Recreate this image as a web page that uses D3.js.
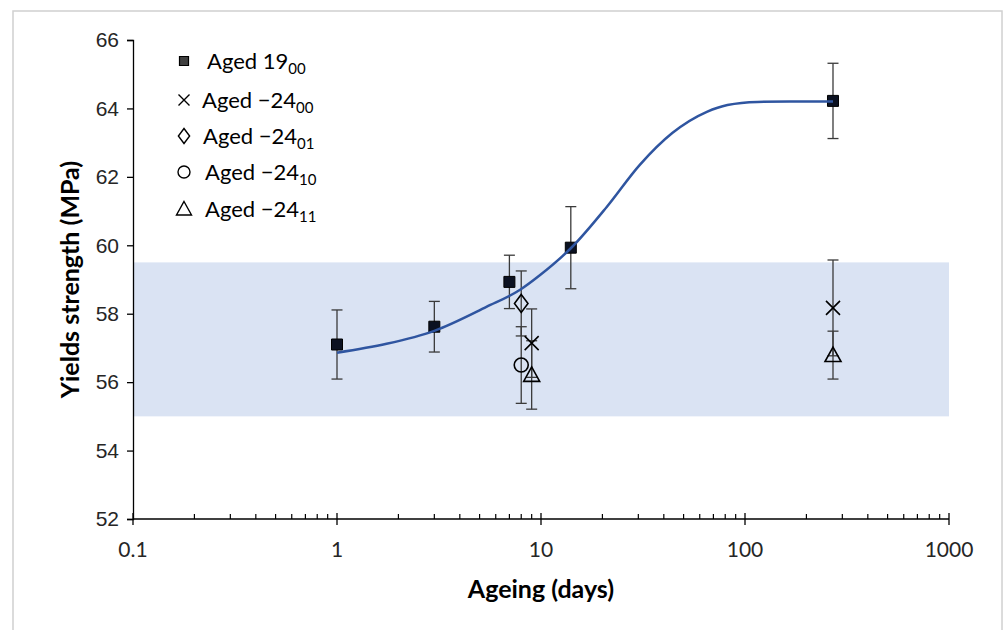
<!DOCTYPE html>
<html lang="en">
<head>
  <meta charset="UTF-8">
  <title>Yield strength vs ageing</title>
  <script src="https://d3js.org/d3.v7.min.js"></script>
  <style>
    body { margin: 0; background: #fff; }
    svg { display: block; font-family: Lato, "Open Sans", sans-serif; }
    .tick-label { font-size: 21px; fill: #262626; }
    .axis-title { font-size: 25px; font-weight: bold; fill: #000; }
    .legend text { font-size: 22px; fill: #000; }
  </style>
</head>
<body>
<svg width="1003" height="630"></svg>
<script>
// reference band (MPa)
const bandLow = 55.0;
const bandHigh = 59.5;

// Aged 19_00
const daysA = [1, 3, 7, 14, 270];
const valsA = [57.1, 57.62, 58.93, 59.93, 64.22];
const errA  = [1.01, 0.74, 0.78, 1.2, 1.1];

// Aged -24_00 (x)
const daysB = [9, 270];
const valsB = [57.14, 58.17];
const errB  = [1.0, 1.4];

// Aged -24_01 (diamond)
const daysC = [8];
const valsC = [58.3];
const errC  = [0.95];

// Aged -24_10 (circle)
const daysD = [8];
const valsD = [56.5];
const errD  = [1.12];

// Aged -24_11 (triangle)
const daysE = [9, 270];
const valsE = [56.21, 56.79];
const errE  = [1.0, 0.7];

// fitted curve
const fitDays = [1, 1.75, 3, 5.4, 7.9, 9.9, 14.2, 21, 30.5, 44, 65, 82, 115, 165, 270];
const fitVals = [56.86, 57.12, 57.5, 58.2, 58.7, 59.13, 59.95, 61.12, 62.35, 63.28, 63.9, 64.1, 64.19, 64.2, 64.2];

const xTicks = [0.1, 1, 10, 100, 1000];
const yTicks = [52, 54, 56, 58, 60, 62, 64, 66];

const svg = d3.select('svg');

// outer frame
svg.append('rect')
  .attr('x', 13).attr('y', 11)
  .attr('width', 989).attr('height', 640)
  .attr('fill', '#fff')
  .attr('stroke', '#d0d0d0')
  .attr('stroke-width', 1.5);

const x = d3.scaleLog().domain([0.1, 1000]).range([133, 949]);
const y = d3.scaleLinear().domain([52, 66]).range([519, 40]);

// band
svg.append('rect')
  .attr('x', x(0.1))
  .attr('y', y(bandHigh))
  .attr('width', x(1000) - x(0.1))
  .attr('height', y(bandLow) - y(bandHigh))
  .attr('fill', '#dae3f3');

// y axis
const yAxis = svg.append('g')
  .attr('transform', `translate(${x(0.1)},0)`)
  .call(d3.axisLeft(y).tickValues(yTicks).tickSize(6).tickPadding(8).tickFormat(d3.format('d')));
yAxis.select('.domain').attr('stroke', '#000').attr('stroke-width', 1.3);
yAxis.selectAll('.tick line').attr('stroke', '#000').attr('stroke-width', 1.3);
yAxis.selectAll('.tick text').attr('class', 'tick-label').attr('font-family', null).attr('font-size', null);

// x axis: minor ticks point up, majors cross the line
const minor = [];
[0.1, 1, 10, 100].forEach(dec => { for (let k = 2; k <= 9; k++) minor.push(dec * k); });

const xAxis = svg.append('g').attr('transform', `translate(0,${y(52)})`);
xAxis.append('line')
  .attr('x1', x(0.1)).attr('x2', x(1000))
  .attr('stroke', '#000').attr('stroke-width', 1.3);
xAxis.selectAll('line.minor').data(minor).enter().append('line')
  .attr('class', 'minor')
  .attr('x1', d => x(d)).attr('x2', d => x(d))
  .attr('y1', -5).attr('y2', 0)
  .attr('stroke', '#000').attr('stroke-width', 1.2);
xAxis.selectAll('line.major').data(xTicks).enter().append('line')
  .attr('class', 'major')
  .attr('x1', d => x(d)).attr('x2', d => x(d))
  .attr('y1', -6).attr('y2', 6)
  .attr('stroke', '#000').attr('stroke-width', 1.3);
xAxis.selectAll('text').data(xTicks).enter().append('text')
  .attr('class', 'tick-label')
  .attr('x', d => x(d))
  .attr('y', 38)
  .attr('text-anchor', 'middle')
  .text(d => String(d));

// axis titles
svg.append('text')
  .attr('class', 'axis-title')
  .attr('transform', `translate(79,${(y(52) + y(66)) / 2}) rotate(-90)`)
  .attr('text-anchor', 'middle')
  .text('Yields strength (MPa)');
svg.append('text')
  .attr('class', 'axis-title')
  .attr('x', (x(0.1) + x(1000)) / 2)
  .attr('y', 598)
  .attr('text-anchor', 'middle')
  .text('Ageing (days)');

// error bars
function errorBars(days, vals, errs) {
  const g = svg.append('g').attr('stroke', '#3a3a3a').attr('stroke-width', 1.3);
  days.forEach((d, i) => {
    const cx = x(d), top = y(vals[i] + errs[i]), bot = y(vals[i] - errs[i]);
    g.append('line').attr('x1', cx).attr('x2', cx).attr('y1', top).attr('y2', bot);
    g.append('line').attr('x1', cx - 5.5).attr('x2', cx + 5.5).attr('y1', top).attr('y2', top);
    g.append('line').attr('x1', cx - 5.5).attr('x2', cx + 5.5).attr('y1', bot).attr('y2', bot);
  });
}
errorBars(daysA, valsA, errA);
errorBars(daysC, valsC, errC);
errorBars(daysD, valsD, errD);
errorBars(daysB, valsB, errB);
errorBars(daysE, valsE, errE);

// marker shapes
const shapes = {
  square: s => `M${-s},${-s}H${s}V${s}H${-s}Z`,
  cross: s => `M${-s},${-s}L${s},${s}M${-s},${s}L${s},${-s}`,
  diamond: s => `M0,${-s}L${s * 0.75},0L0,${s}L${-s * 0.75},0Z`,
  circle: s => `M${s},0A${s},${s} 0 1,1 ${-s},0A${s},${s} 0 1,1 ${s},0Z`,
  triangle: s => `M0,${-s}L${s},${s * 0.8}H${-s}Z`
};

function markers(days, vals, shape, size, fill, sw) {
  svg.append('g').selectAll('path').data(days).enter().append('path')
    .attr('transform', (d, i) => `translate(${x(d)},${y(vals[i])})`)
    .attr('d', shapes[shape](size))
    .attr('fill', fill)
    .attr('stroke', '#000')
    .attr('stroke-width', sw);
}
markers(daysA, valsA, 'square', 5.5, '#0b1121', 1);
markers(daysC, valsC, 'diamond', 9, 'none', 1.6);
markers(daysD, valsD, 'circle', 7, 'none', 1.6);
markers(daysB, valsB, 'cross', 7, 'none', 1.6);
markers(daysE, valsE, 'triangle', 8, 'none', 1.6);

// fitted curve
const line = d3.line()
  .x((d, i) => x(fitDays[i]))
  .y(d => y(d))
  .curve(d3.curveMonotoneX);
svg.append('path')
  .attr('d', line(fitVals))
  .attr('fill', 'none')
  .attr('stroke', '#2f55a0')
  .attr('stroke-width', 2.5);

// legend
const legendItems = [
  { shape: 'square', size: 4.5, fill: '#404040', sw: 1.2, main: 'Aged 19', sub: '00', y: 61, tx: 207 },
  { shape: 'cross', size: 5.5, fill: 'none', sw: 1.4, main: 'Aged \u221224', sub: '00', y: 100, tx: 202 },
  { shape: 'diamond', size: 7.5, fill: 'none', sw: 1.4, main: 'Aged \u221224', sub: '01', y: 136, tx: 203 },
  { shape: 'circle', size: 6, fill: 'none', sw: 1.4, main: 'Aged \u221224', sub: '10', y: 172, tx: 205 },
  { shape: 'triangle', size: 7.5, fill: 'none', sw: 1.4, main: 'Aged \u221224', sub: '11', y: 209, tx: 205 }
];
const legend = svg.append('g').attr('class', 'legend');
legendItems.forEach(it => {
  legend.append('path')
    .attr('transform', `translate(184,${it.y})`)
    .attr('d', shapes[it.shape](it.size))
    .attr('fill', it.fill)
    .attr('stroke', '#000')
    .attr('stroke-width', it.sw);
  const t = legend.append('text').attr('x', it.tx).attr('y', it.y + 8);
  t.append('tspan').text(it.main);
  t.append('tspan').attr('dy', 5).attr('font-size', 15).text(it.sub);
});
</script>
</body>
</html>
